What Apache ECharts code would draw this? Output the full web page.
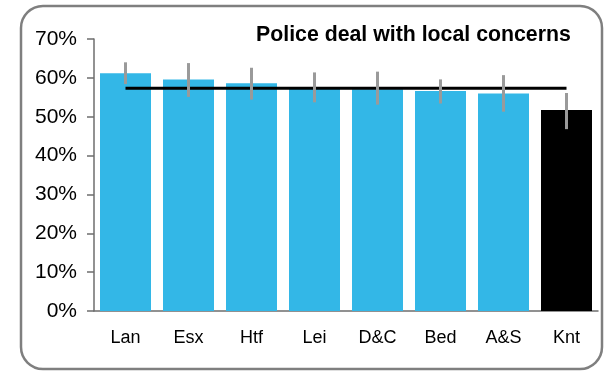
<!DOCTYPE html>
<html>
<head>
<meta charset="utf-8">
<script src="https://cdn.jsdelivr.net/npm/echarts@6/dist/echarts.min.js"></script>
<style>
html,body{margin:0;padding:0;background:#fff;}
#chart{width:606px;height:372px;}
</style>
</head>
<body>
<div id="chart"></div>
<script>
var categories = ['Lan','Esx','Htf','Lei','D&C','Bed','A&S','Knt'];
var values = [61.2, 59.6, 58.6, 57.2, 57.1, 56.6, 56.0, 51.7];
var errLow = [58.4, 55.1, 54.4, 53.7, 53.1, 53.4, 51.3, 46.8];
var errHigh = [64.0, 63.8, 62.6, 61.4, 61.6, 59.6, 60.7, 56.1];
var average = [57.3, 57.3, 57.3, 57.3, 57.3, 57.3, 57.3, 57.3];
var yTicks = [0, 10, 20, 30, 40, 50, 60, 70];
var titleText = 'Police deal with local concerns';

var blue = '#33B7E7';
var highlight = 'Knt';
var font = 'Liberation Sans, Arial, sans-serif';

var chart = echarts.init(document.getElementById('chart'), null, {renderer: 'canvas'});
var barData = values.map(function (v, i) {
  return {value: v, itemStyle: {color: categories[i] === highlight ? '#000000' : blue}};
});
var errData = categories.map(function (c, i) { return [i, errLow[i], errHigh[i]]; });

chart.setOption({
  animation: false,
  graphic: [
    {type: 'rect', shape: {x: 21, y: 6, width: 581, height: 363, r: 22},
     style: {fill: 'none', stroke: '#7f7f7f', lineWidth: 2.5}, z: 0},
    {type: 'text', left: 256, top: 25,
     style: {text: titleText, font: 'bold 21.3px ' + font, fill: '#000'}, z: 10}
  ],
  grid: {left: 94, right: 8, top: 39, bottom: 61, containLabel: false},
  xAxis: {
    type: 'category', data: categories,
    axisLine: {show: true, lineStyle: {color: '#6e6e6e', width: 1.5}},
    axisTick: {show: false},
    axisLabel: {color: '#000', fontFamily: font, fontSize: 18, margin: 18}
  },
  yAxis: {
    type: 'value', min: yTicks[0], max: yTicks[yTicks.length - 1], interval: 10,
    axisLine: {show: true, lineStyle: {color: '#6e6e6e', width: 1.5}},
    axisTick: {show: true, length: 7, lineStyle: {color: '#6e6e6e', width: 1.5}},
    splitLine: {show: false},
    axisLabel: {color: '#000', fontFamily: font, fontSize: 21, margin: 17,
      formatter: function (v) { return v + '%'; }}
  },
  series: [
    {type: 'bar', data: barData, barWidth: 51, z: 2},
    {type: 'line', data: average, symbol: 'none', z: 3,
     lineStyle: {color: '#000', width: 3}},
    {type: 'custom', data: errData, z: 4,
     renderItem: function (params, api) {
       var p1 = api.coord([api.value(0), api.value(1)]);
       var p2 = api.coord([api.value(0), api.value(2)]);
       return {type: 'line', shape: {x1: p1[0], y1: p1[1], x2: p2[0], y2: p2[1]},
               style: {stroke: '#9a9a9a', lineWidth: 3}};
     }}
  ]
});
</script>
</body>
</html>
